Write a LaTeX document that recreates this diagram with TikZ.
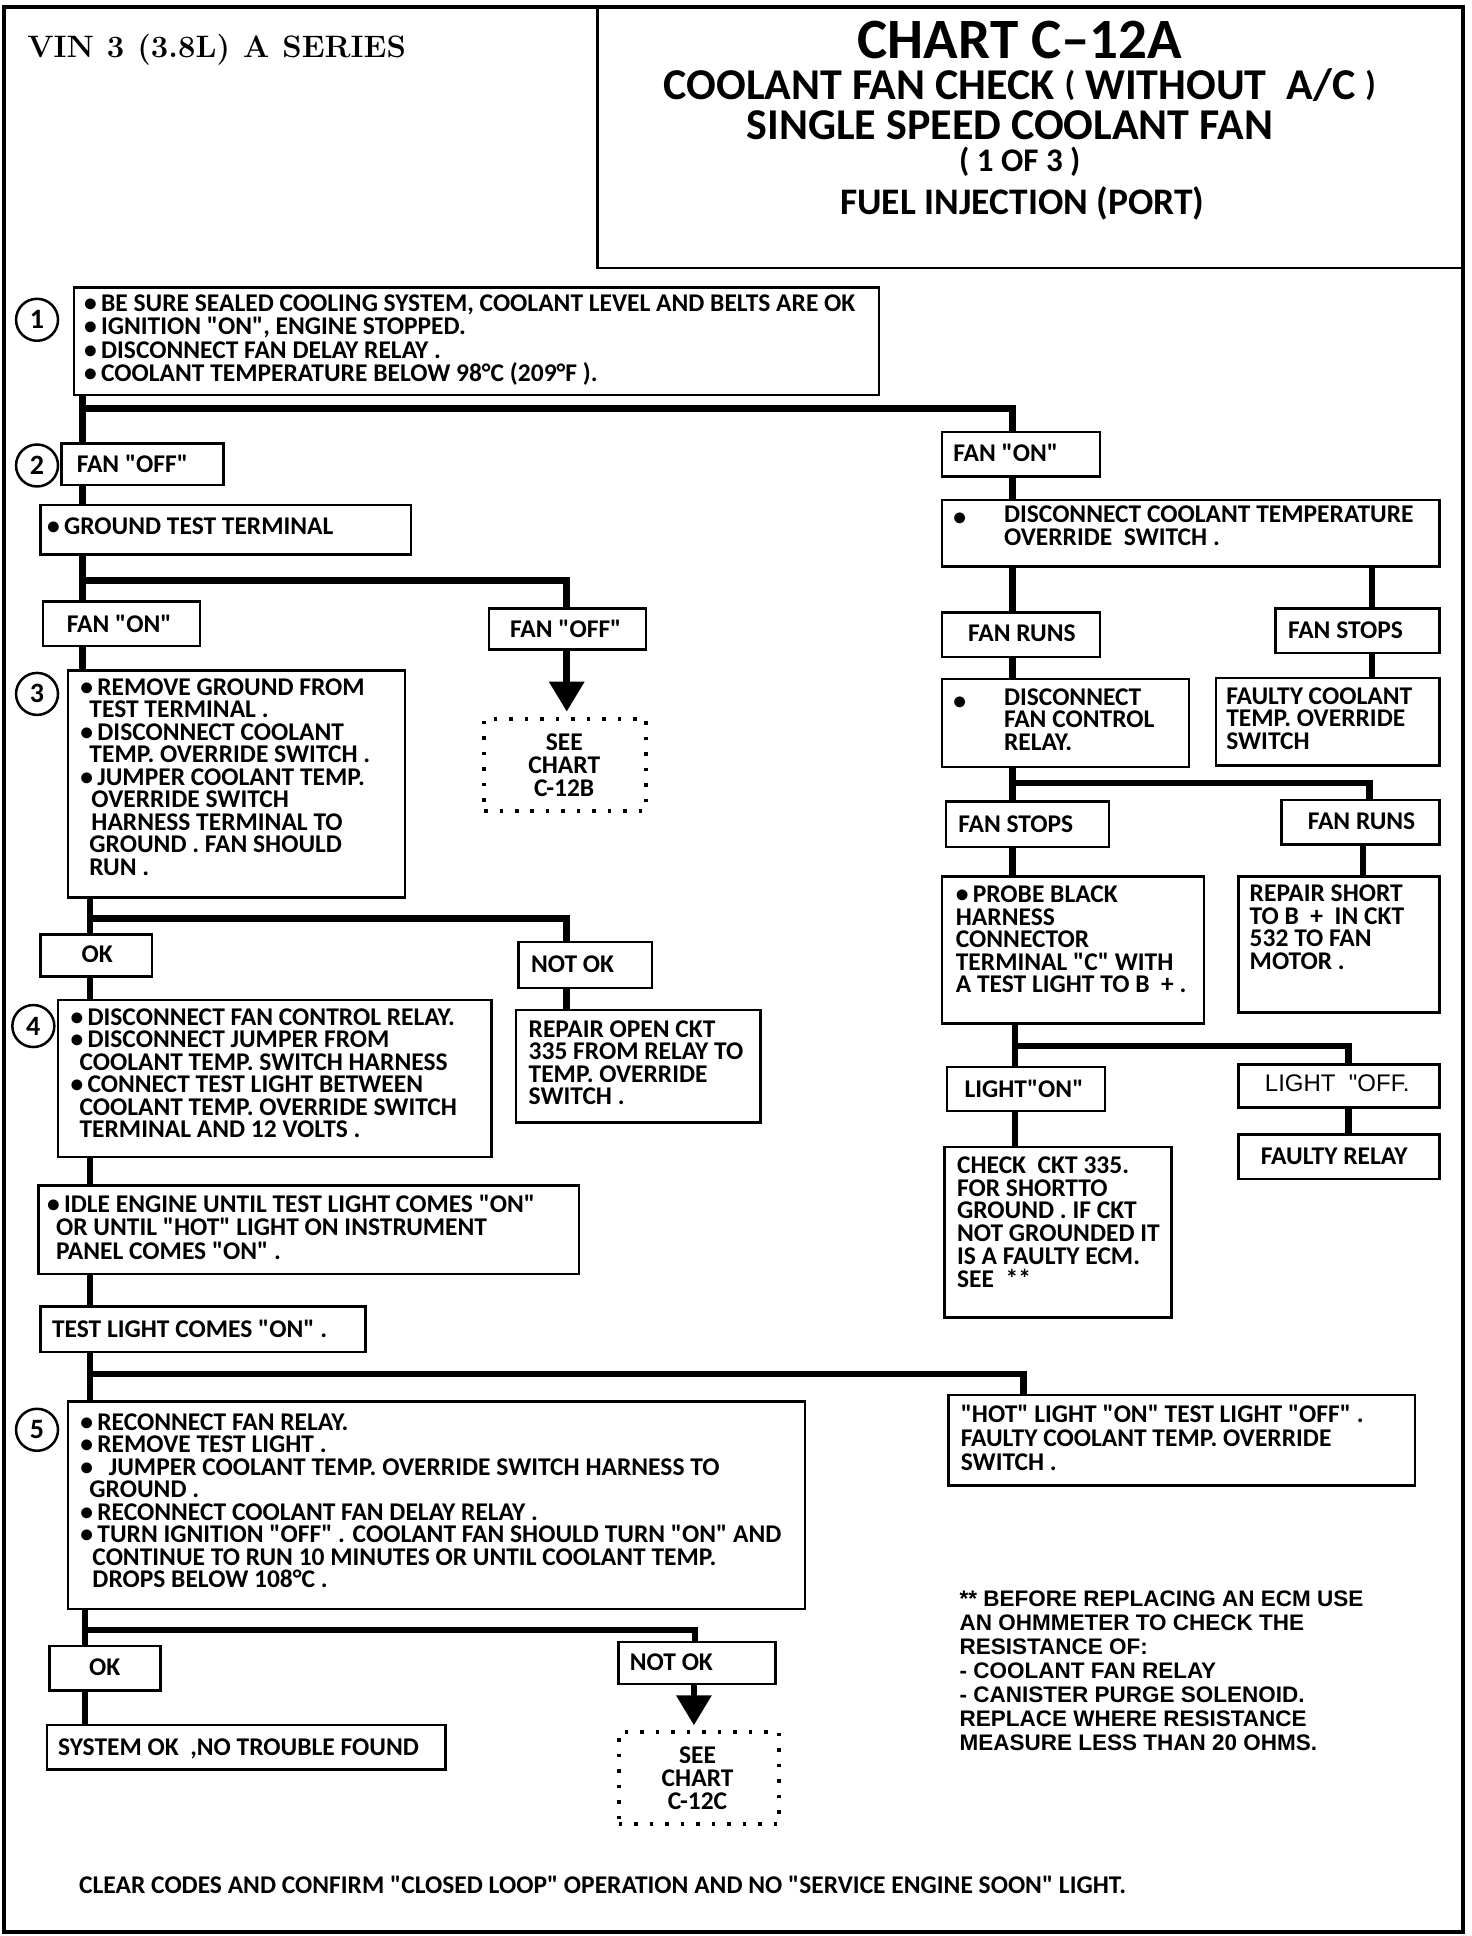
\documentclass[tikz,border=0pt]{standalone}
\usepackage{fontspec}
\newfontfamily\calf{Carlito}
\newfontfamily\arialf{Liberation Sans}
\usetikzlibrary{fit,arrows.meta}
\newcommand{\bt}{\calf\bfseries\fontsize{25.5}{22.5}\selectfont}
\newcommand{\bu}{\textbullet\,}
\newcommand{\ind}{\hspace*{9pt}}
\newcommand{\slp}{{\fontsize{34}{34}\selectfont\raisebox{4pt}{(}}}
\newcommand{\srp}{{\fontsize{34}{34}\selectfont\raisebox{4pt}{)}}}
\begin{document}
\begin{tikzpicture}[x=1.2349pt,y=-1.2349pt,
  box/.style={draw,line width=2.5pt,inner sep=0pt},
  dotbox/.style={draw,line width=4pt,inner sep=0pt,dash pattern=on 3.5pt off 12pt},
  conn/.style={line width=6.5pt},
  txt/.style={anchor=north west,inner sep=0pt,align=left,font=\bt,yshift=3pt,execute at begin node={\rule{0pt}{20pt}}},
  ctxt/.style={anchor=center,inner sep=0pt,align=center,font=\calf\bfseries\fontsize{25.5}{23}\selectfont},
  foot/.style={anchor=north west,inner sep=0pt,align=left,font=\arialf\bfseries\fontsize{22.5}{24}\selectfont,execute at begin node={\rule{0pt}{19pt}}},
  num/.style={circle,draw,line width=2.5pt,minimum size=42pt,inner sep=0pt,font=\calf\bfseries\fontsize{28}{28}\selectfont},
  tip/.style={-{Triangle[width=34pt,length=30pt]}}
]
\useasboundingbox (0,0) rectangle (1192,1568);
\draw[line width=4pt] (3,6) rectangle (1185,1565);
\draw[line width=2.5pt] (484,6) -- (484,217) -- (1185,217);

% header
\node[anchor=west,inner sep=0pt,font=\rmfamily\bfseries\fontsize{31}{31}\selectfont] (vin) at (22,40) {VIN\hspace{13pt}3\hspace{13pt}(3.8L)\hspace{13pt}A\hspace{13pt}SERIES};
\node[anchor=north,inner sep=0pt,font=\calf\bfseries] (title) at (826,16.2) {\vbox{\offinterlineskip\halign{\hfil#\hfil\cr
\fontsize{57}{57}\selectfont\rule{0pt}{38pt}CHART C–12A\cr
\fontsize{44}{44}\selectfont\rule[-10pt]{0pt}{50.5pt}COOLANT FAN CHECK \slp\ WITHOUT\ \ A/C \srp\cr
\fontsize{44}{44}\selectfont\rule{0pt}{30.8pt}SINGLE SPEED COOLANT FAN\hspace*{20pt}\cr
\fontsize{33}{33}\selectfont\rule[-9pt]{0pt}{40.7pt}(\ 1 OF 3\ )\cr
\fontsize{37.5}{37.5}\selectfont\rule[-9pt]{0pt}{42.5pt}\hspace*{5pt}FUEL INJECTION (PORT)\cr}}};

% circled numbers
\node[num] (n1) at (30,259) {1};
\node[num] (n2) at (30,377) {2};
\node[num] (n3) at (30,562) {3};
\node[num] (n4) at (27,831) {4};
\node[num] (n5) at (30,1158) {5};

% left column boxes
\node[box,fit={(60,233) (712,320)}] (b1) {};
\node[txt,font=\calf\bfseries\fontsize{25.5}{23.3}\selectfont] (t1) at (68,241) {\bu BE SURE SEALED COOLING SYSTEM, COOLANT LEVEL AND BELTS ARE OK\\\bu IGNITION "ON", ENGINE STOPPED.\\\bu DISCONNECT FAN DELAY RELAY .\\\bu COOLANT TEMPERATURE BELOW 98°C (209°F ).};

\node[box,fit={(50,359) (181,393)}] (off1) {};
\node[txt] (toff1) at (62,369) {FAN "OFF"};

\node[box,fit={(33,409) (333,449)}] (gt) {};
\node[txt] (tgt) at (38,419) {\bu GROUND TEST TERMINAL};

\node[box,fit={(35,487) (162,523)}] (on2) {};
\node[txt] (ton2) at (54,498) {FAN "ON"};

\node[box,fit={(396,493) (523,526)}] (off2) {};
\node[txt] (toff2) at (413,502) {FAN "OFF"};

\node[dotbox,fit={(392,582) (523,657)}] (see1) {};
\node[ctxt] (tsee1) at (457,620) {SEE\\CHART\\C-12B};

\node[box,fit={(55,543) (328,727)}] (b3) {};
\node[txt] (t3) at (65,552) {\bu REMOVE GROUND FROM\\\ind TEST TERMINAL .\\\bu DISCONNECT COOLANT\\\ind TEMP. OVERRIDE SWITCH .\\\bu JUMPER COOLANT TEMP.\\\hspace*{11pt}OVERRIDE SWITCH\\\hspace*{11pt}HARNESS TERMINAL TO\\\ind GROUND . FAN SHOULD\\\ind RUN .};

\node[box,fit={(33,757) (123,791)}] (ok1) {};
\node[txt] (tok1) at (66,766) {OK};

\node[box,fit={(420,763) (528,800)}] (nok1) {};
\node[txt] (tnok1) at (430,774) {NOT OK};

\node[box,fit={(418,818) (616,909)}] (rep1) {};
\node[txt] (trep1) at (428,829) {REPAIR OPEN CKT\\335 FROM RELAY TO\\TEMP. OVERRIDE\\SWITCH .};

\node[box,fit={(47,810) (398,937)}] (b4) {};
\node[txt] (t4) at (57,819) {\bu DISCONNECT FAN CONTROL RELAY.\\\bu DISCONNECT JUMPER FROM\\\ind COOLANT TEMP. SWITCH HARNESS\\\bu CONNECT TEST LIGHT BETWEEN\\\ind COOLANT TEMP. OVERRIDE SWITCH\\\ind TERMINAL AND 12 VOLTS .};

\node[box,fit={(31,960) (469,1032)}] (idle) {};
\node[txt,font=\calf\bfseries\fontsize{25.5}{23.5}\selectfont] (tidle) at (38,970) {\bu IDLE ENGINE UNTIL TEST LIGHT COMES "ON"\\\ind OR UNTIL "HOT" LIGHT ON INSTRUMENT\\\ind PANEL COMES "ON" .};

\node[box,fit={(33,1058) (296,1095)}] (tl) {};
\node[txt] (ttl) at (42,1069) {TEST LIGHT COMES "ON" .};

\node[box,fit={(768,1130) (1146,1203)}] (hot) {};
\node[txt,font=\calf\bfseries\fontsize{25.5}{24}\selectfont] (thot) at (778,1140) {"HOT" LIGHT "ON" TEST LIGHT "OFF" .\\FAULTY COOLANT TEMP. OVERRIDE\\SWITCH .};

\node[box,fit={(55,1135) (652,1303)}] (b5) {};
\node[txt] (t5) at (65,1147) {\bu RECONNECT FAN RELAY.\\\bu REMOVE TEST LIGHT .\\\bu\ \ JUMPER COOLANT TEMP. OVERRIDE SWITCH HARNESS TO\\\ind GROUND .\\\bu RECONNECT COOLANT FAN DELAY RELAY .\\\bu TURN IGNITION "OFF" . COOLANT FAN SHOULD TURN "ON" AND\\\hspace*{12pt}CONTINUE TO RUN 10 MINUTES OR UNTIL COOLANT TEMP.\\\hspace*{12pt}DROPS BELOW 108°C .};

\node[box,fit={(40,1333) (130,1369)}] (ok2) {};
\node[txt] (tok2) at (72,1343) {OK};

\node[box,fit={(501,1330) (628,1364)}] (nok2) {};
\node[txt] (tnok2) at (510,1339) {NOT OK};

\node[dotbox,fit={(501,1403) (631,1477)}] (see2) {};
\node[ctxt] (tsee2) at (565,1440) {SEE\\CHART\\C-12C};

\node[box,fit={(38,1397) (361,1433)}] (sys) {};
\node[txt] (tsys) at (47,1408) {SYSTEM OK\ \ ,NO TROUBLE FOUND};

\node[foot] (fn) at (777,1288) {** BEFORE REPLACING AN ECM USE\\AN OHMMETER TO CHECK THE\\RESISTANCE OF:\\- COOLANT FAN RELAY\\- CANISTER PURGE SOLENOID.\\REPLACE WHERE RESISTANCE\\MEASURE LESS THAN 20 OHMS.};

\node[txt] (bottom) at (64,1520) {CLEAR CODES AND CONFIRM "CLOSED LOOP" OPERATION AND NO "SERVICE ENGINE SOON" LIGHT.};

% right column boxes
\node[box,fit={(763,350) (891,386)}] (on1) {};
\node[txt] (ton1) at (772,360) {FAN "ON"};

\node[box,fit={(763,405) (1166,459)}] (dc) {};
\node[txt] (tdcb) at (772,412) {\textbullet};
\node[txt] (tdc) at (813,412) {DISCONNECT COOLANT TEMPERATURE\\OVERRIDE\ \ SWITCH .};

\node[box,fit={(763,496) (891,532)}] (runs1) {};
\node[txt] (truns1) at (784,506) {FAN RUNS};

\node[box,fit={(1033,493) (1166,529)}] (stops1) {};
\node[txt] (tstops1) at (1043,503) {FAN STOPS};

\node[box,fit={(763,550) (963,621)}] (dfc) {};
\node[txt] (tdfcb) at (772,561) {\textbullet};
\node[txt] (tdfc) at (813,560) {DISCONNECT\\FAN CONTROL\\RELAY.};

\node[box,fit={(985,549) (1166,620)}] (fcs) {};
\node[txt] (tfcs) at (993,559) {FAULTY COOLANT\\TEMP. OVERRIDE\\SWITCH};

\node[box,fit={(766,649) (898,686)}] (stops2) {};
\node[txt] (tstops2) at (776,660) {FAN STOPS};

\node[box,fit={(1038,648) (1166,684)}] (runs2) {};
\node[txt] (truns2) at (1059,658) {FAN RUNS};

\node[box,fit={(763,710) (975,829)}] (probe) {};
\node[txt] (tprobe) at (774,720) {\bu PROBE BLACK\\HARNESS\\CONNECTOR\\TERMINAL "C" WITH\\A TEST LIGHT TO B\ \ + .};

\node[box,fit={(1003,710) (1166,820)}] (rs) {};
\node[txt] (trs) at (1012,719) {REPAIR SHORT\\TO B\ \ +\ \ IN CKT\\532 TO FAN\\MOTOR .};

\node[box,fit={(767,864) (895,900)}] (lon) {};
\node[txt] (tlon) at (781,875) {LIGHT"ON"};

\node[box,fit={(1003,862) (1166,897)}] (loff) {};
\node[anchor=center,inner sep=0pt,font=\arialf\fontsize{24}{24}\selectfont] (tloff) at (1083,877) {LIGHT\ \ "OFF.};

\node[box,fit={(1003,919) (1166,955)}] (frel) {};
\node[txt] (tfrel) at (1021,929) {FAULTY RELAY};

\node[box,fit={(765,929) (949,1067)}] (chk) {};
\node[txt,font=\calf\bfseries\fontsize{25.5}{22.8}\selectfont] (tchk) at (775,939) {CHECK\ \ CKT 335.\\FOR SHORTTO\\GROUND . IF CKT\\NOT GROUNDED IT\\IS A FAULTY ECM.\\SEE\ \ **};

% connectors
\coordinate (j1) at (67,331);
\coordinate (j2) at (67,470);
\coordinate (j3) at (73,744);
\coordinate (j4) at (73,1113);
\coordinate (j5) at (69,1320);
\coordinate (j6) at (820,634);
\coordinate (j7) at (822,847);

\draw[conn] (b1.south -| j1) -- (off1.north -| j1);
\draw[conn] (j1) -| (on1.north -| 820,0);
\draw[conn] (off1.south -| j1) -- (gt.north -| j1);
\draw[conn] (gt.south -| j2) -- (on2.north -| j2);
\draw[conn] (j2) -| (off2.north -| 459,0);
\draw[conn,tip,shorten >=5pt] (off2.south -| 459,0) -- (see1.north -| 459,0);
\draw[conn] (on2.south -| j2) -- (b3.north -| j2);
\draw[conn] (b3.south -| j3) -- (ok1.north -| j3);
\draw[conn] (j3) -| (nok1.north -| 459,0);
\draw[conn] (nok1.south -| 459,0) -- (rep1.north -| 459,0);
\draw[conn] (ok1.south -| j3) -- (b4.north -| j3);
\draw[conn] (b4.south -| j3) -- (idle.north -| j3);
\draw[conn] (idle.south -| j3) -- (tl.north -| j3);
\draw[conn] (tl.south -| j4) -- (b5.north -| j4);
\draw[conn] (j4) -| (hot.north -| 829,0);
\draw[conn] (b5.south -| j5) -- (ok2.north -| j5);
\draw[conn] (j5) -| (nok2.north -| 563,0);
\draw[conn,tip,shorten >=5pt] (nok2.south -| 562,0) -- (see2.north -| 562,0);
\draw[conn] (ok2.south -| j5) -- (sys.north -| j5);

\draw[conn] (on1.south -| 820,0) -- (dc.north -| 820,0);
\draw[conn] (dc.south -| 820,0) -- (runs1.north -| 820,0);
\draw[conn] (dc.south -| 1111,0) -- (stops1.north -| 1111,0);
\draw[conn] (runs1.south -| 820,0) -- (dfc.north -| 820,0);
\draw[conn] (stops1.south -| 1111,0) -- (fcs.north -| 1111,0);
\draw[conn] (dfc.south -| j6) -- (stops2.north -| j6);
\draw[conn] (j6) -| (runs2.north -| 1109,0);
\draw[conn] (stops2.south -| j6) -- (probe.north -| j6);
\draw[conn] (runs2.south -| 1104,0) -- (rs.north -| 1104,0);
\draw[conn] (probe.south -| j7) -- (lon.north -| j7);
\draw[conn] (j7) -| (loff.north -| 1092,0);
\draw[conn] (lon.south -| j7) -- (chk.north -| j7);
\draw[conn] (loff.south -| 1092,0) -- (frel.north -| 1092,0);
\end{tikzpicture}
\end{document}
